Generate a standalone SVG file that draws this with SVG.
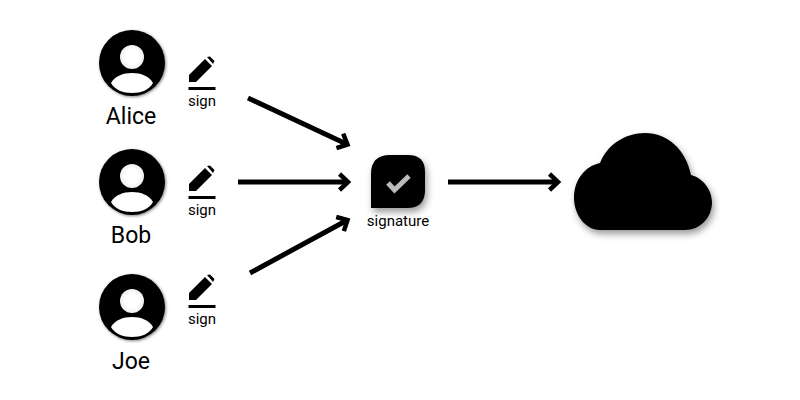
<svg xmlns="http://www.w3.org/2000/svg" width="800" height="400" viewBox="0 0 800 400">
<style>
text{font-family:Roboto,"Liberation Sans",sans-serif;fill:#000;text-anchor:middle}
.n{font-size:23px}.s{font-size:15px}
.c{fill:none;stroke:#000;stroke-width:5}
</style>
<defs>
<filter id="sh" x="-20%" y="-20%" width="150%" height="150%"><feDropShadow dx="2" dy="4" stdDeviation="3.500" flood-color="#000" flood-opacity="0.4"/></filter>
<filter id="av" x="-20%" y="-20%" width="140%" height="140%"><feDropShadow dx="1" dy="1" stdDeviation="1.500" flood-color="#000" flood-opacity="0.5"/></filter>
<radialGradient id="hd"><stop offset="0.6" stop-color="#fff"/><stop offset="1" stop-color="#eee"/></radialGradient>
<marker id="a" viewBox="0 0 20 20" refX="14" refY="10" markerWidth="20" markerHeight="20" markerUnits="userSpaceOnUse" orient="auto"><path d="M5.500 2L14 10L5.500 18" fill="none" stroke="#000" stroke-width="4.500"/></marker>
<g id="person"><circle cx="0" cy="0" r="33" fill="#000" filter="url(#av)"/><circle cx="0" cy="-6" r="12" fill="url(#hd)"/><path d="M-21 20C-17 13-9 10 0 10C9 10 17 13 21 20C17 27 9 30 0 30C-9 30-17 27-21 20Z" fill="#fff"/></g>
<g id="pen"><path d="M-13 23L-13 16L3 0L10 7L-6 23ZM5 -2L8 -2.500L12.500 2L11 5Z" fill="#000"/><rect x="-13.500" y="28" width="27" height="3" fill="#000"/></g>
</defs>
<g id="connectors">
<path class="c" marker-end="url(#a)" d="M248 98L347.500 144.500"/>
<path class="c" marker-end="url(#a)" d="M238 182H348"/>
<path class="c" marker-end="url(#a)" d="M250 273L347.500 220"/>
<path class="c" marker-end="url(#a)" d="M448 182H558"/>
</g>
<g id="alice"><use href="#person" x="132" y="63"/><text class="n" x="131" y="124">Alice</text></g>
<g id="bob"><use href="#person" x="132" y="182"/><text class="n" x="131" y="243">Bob</text></g>
<g id="joe"><use href="#person" x="132" y="307"/><text class="n" x="131" y="369">Joe</text></g>
<g id="sign1"><use href="#pen" x="202" y="59"/><text class="s" x="202" y="106">sign</text></g>
<g id="sign2"><use href="#pen" x="202" y="168"/><text class="s" x="202" y="215">sign</text></g>
<g id="sign3"><use href="#pen" x="202" y="277"/><text class="s" x="202" y="324">sign</text></g>
<g id="signature"><path d="M390 155H408Q425 155 425 172V190Q425 208 407 208H371V174Q371 155 390 155Z" fill="#000" filter="url(#sh)"/><path d="M388 183L394.500 190L409 176" fill="none" stroke="#bbb" stroke-width="5"/><text class="s" x="398" y="226">signature</text></g>
<g id="cloud"><path d="M600 230C585 230 574 214 574 198C574 180 585 166 600 163C607 145 625 133 645 133C668 133 686 150 691 175C703 178 712 190 712 202C712 218 700 230 685 230Z" fill="#000" filter="url(#sh)"/></g>
</svg>
